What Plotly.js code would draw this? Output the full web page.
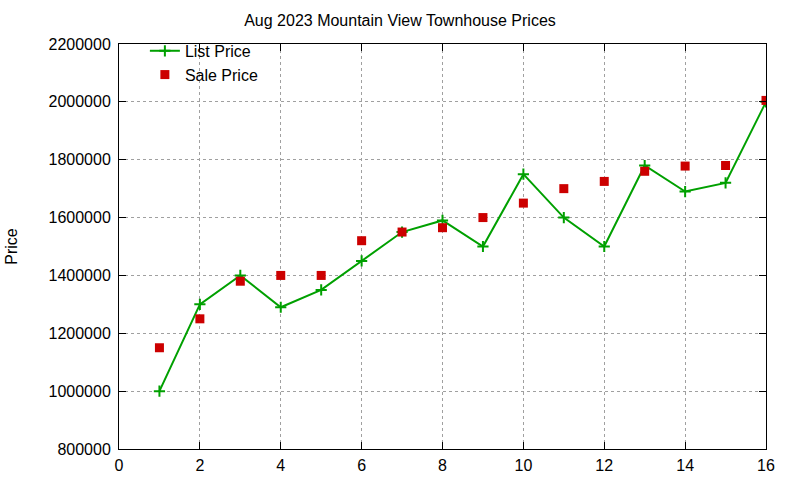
<!DOCTYPE html>
<html>
<head>
<meta charset="utf-8">
<script src="https://cdn.plot.ly/plotly-3.0.1.min.js"></script>
<style>
  html, body { margin: 0; padding: 0; background: #fff; }
  #chart { width: 800px; height: 480px; }
</style>
</head>
<body>
<div id="chart"></div>
<script>
// House index (1..16) and prices
const houseIdx   = [1, 2, 3, 4, 5, 6, 7, 8, 9, 10, 11, 12, 13, 14, 15, 16];
const listPrice  = [1000000, 1300000, 1400000, 1290000, 1350000, 1450000, 1550000, 1590000,
                    1500000, 1750000, 1600000, 1500000, 1780000, 1690000, 1720000, 2000000];
const salePrice  = [1150000, 1250000, 1380000, 1400000, 1400000, 1520000, 1550000, 1565000,
                    1600000, 1650000, 1700000, 1725000, 1760000, 1778000, 1780000, 2005000];

const font = { family: "Liberation Sans, Arial, sans-serif", size: 16, color: "#000" };

const axisBase = {
    showline: true, linecolor: "#000", linewidth: 1, mirror: "ticks",
    ticks: "inside", ticklen: 7, tickcolor: "#000",
    showgrid: true, gridcolor: "#a0a0a0", griddash: "dot", gridwidth: 1,
    zeroline: false, tickfont: font,
};

const traces = [
    {
        x: houseIdx, y: listPrice, name: "List Price",
        type: "scatter", mode: "lines+markers",
        line: { color: "#00a000", width: 2 },
        marker: { symbol: "cross-thin", size: 8, line: { color: "#00a000", width: 2 } },
    },
    {
        x: houseIdx, y: salePrice, name: "Sale Price",
        type: "scatter", mode: "markers",
        marker: { symbol: "square", size: 9, color: "#cc0000" },
    },
];

const layout = {
    width: 800, height: 480,
    paper_bgcolor: "#fff", plot_bgcolor: "#fff",
    margin: { l: 119, r: 34, t: 44, b: 31 },
    font,
    title: { text: "Aug 2023 Mountain View Townhouse Prices", font, x: 0.5, xanchor: "center", y: 0.958, yanchor: "middle" },
    showlegend: true,
    legend: { x: 0.04, y: 1.025, xanchor: "left", yanchor: "top", bgcolor: "rgba(0,0,0,0)", font, tracegroupgap: 0 },
    xaxis: { ...axisBase, range: [0, 16], dtick: 2, tick0: 0, ticklabelstandoff: 2 },
    yaxis: { ...axisBase, range: [800000, 2200000], dtick: 200000, tick0: 800000, tickformat: "d",
             ticklabelstandoff: 4,
             title: { text: "Price", font, standoff: 26 }, automargin: false },
};

Plotly.newPlot("chart", traces, layout, { staticPlot: true });
</script>
</body>
</html>
